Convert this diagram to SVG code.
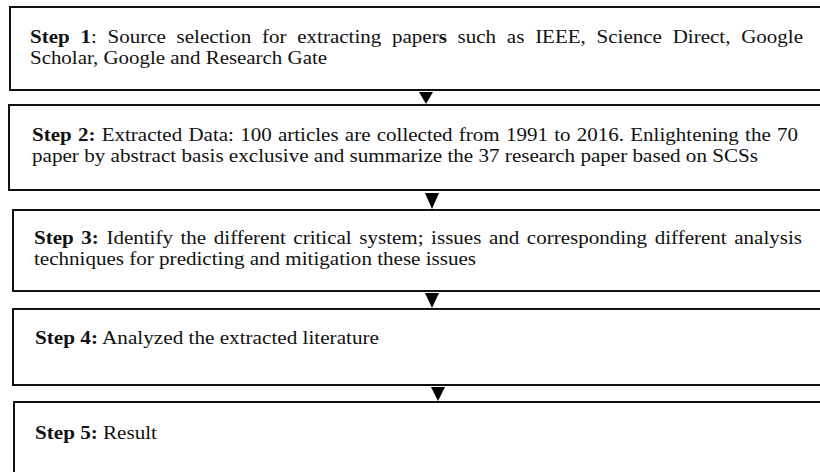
<svg xmlns="http://www.w3.org/2000/svg" width="820" height="472" viewBox="0 0 820 472">
<style>
.box{fill:#fff;stroke:#111;stroke-width:2}
.t{font-family:"Liberation Serif","Times New Roman",serif;font-size:19px;fill:#111}
.b{font-weight:bold}
.arr{fill:#000}
</style>
<rect width="820" height="472" fill="#fff"/>
<g id="step1">
<rect class="box" x="10" y="7" width="830" height="83"/>
<text class="t" x="30" y="43" word-spacing="5" textLength="773" lengthAdjust="spacingAndGlyphs"><tspan class="b">Step 1</tspan>: Source selection for extracting paper<tspan class="b">s</tspan> such as IEEE, Science Direct, Google</text>
<text class="t" x="30" y="64" textLength="297" lengthAdjust="spacingAndGlyphs">Scholar, Google and Research Gate</text>
</g>
<g id="step2">
<rect class="box" x="9" y="105" width="830" height="85"/>
<text class="t" x="32" y="141" word-spacing="0.9" textLength="766" lengthAdjust="spacingAndGlyphs"><tspan class="b">Step 2:</tspan> Extracted Data: 100 articles are collected from 1991 to 2016. Enlightening the 70</text>
<text class="t" x="32" y="162" textLength="726" lengthAdjust="spacingAndGlyphs">paper by abstract basis exclusive and summarize the 37 research paper based on SCSs</text>
</g>
<g id="step3">
<rect class="box" x="13" y="210" width="830" height="81"/>
<text class="t" x="34" y="244" word-spacing="2.1" textLength="768" lengthAdjust="spacingAndGlyphs"><tspan class="b">Step 3:</tspan> Identify the different critical system; issues and corresponding different analysis</text>
<text class="t" x="34" y="265" textLength="442" lengthAdjust="spacingAndGlyphs">techniques for predicting and mitigation these issues</text>
</g>
<g id="step4">
<rect class="box" x="13" y="309" width="830" height="76"/>
<text class="t" x="35" y="344" textLength="344" lengthAdjust="spacingAndGlyphs"><tspan class="b">Step 4:</tspan> Analyzed the extracted literature</text>
</g>
<g id="step5">
<rect class="box" x="14" y="402" width="830" height="90"/>
<text class="t" x="35" y="439" textLength="122" lengthAdjust="spacingAndGlyphs"><tspan class="b">Step 5:</tspan> Result</text>
</g>
<g id="connectors">
<polygon class="arr" points="419,92 433,92 426,104"/>
<polygon class="arr" points="425,193 439,193 432,209"/>
<polygon class="arr" points="425,293 439,293 432,308"/>
<polygon class="arr" points="431,387 445,387 438,401"/>
</g>
</svg>
